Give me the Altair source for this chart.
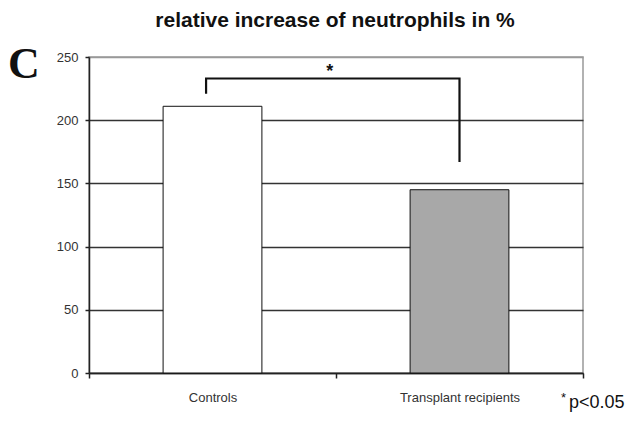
import altair as alt
import pandas as pd

categories = ["Controls", "Transplant recipients"]
values = [211, 145]
fills = ["#ffffff", "#a8a8a8"]

# significance bracket (x in band units 0..2, y in data units)
bracket_x = [0.474, 0.474, 1.5, 1.5]
bracket_y = [221, 233, 233, 167]
bracket_order = [0, 1, 2, 3]
star_x = [0.975]
star_y = [233]

y_ticks = [0, 50, 100, 150, 200, 250]

bars_df = pd.DataFrame({"group": categories, "value": values, "fill": fills})
bracket_df = pd.DataFrame({"bx": bracket_x, "value": bracket_y, "o": bracket_order})
star_df = pd.DataFrame({"sx": star_x, "value": star_y, "t": ["*"]})

yscale = alt.Scale(domain=[0, 250], nice=False)
xq = alt.Scale(domain=[0, 2], nice=False, zero=False)

yaxis = alt.Axis(
    values=y_ticks, title=None, tickSize=4, labelPadding=7,
    labelFontSize=13, labelFont="Liberation Sans", labelColor="#333",
    domainColor="#222", domainWidth=1.5, tickColor="#222", tickWidth=1.5,
    grid=True, gridWidth=1.5,
    gridColor=alt.condition("datum.value == 250", alt.value("#999999"), alt.value("#333333")),
)

bars = alt.Chart(bars_df).mark_bar(
    stroke="#111", strokeWidth=1, width=alt.RelativeBandSize(0.4)
).encode(
    x=alt.X(
        "group:N", sort=categories,
        scale=alt.Scale(paddingInner=0, paddingOuter=0),
        axis=alt.Axis(
            title=None, labelAngle=0, tickBand="extent", tickSize=5,
            labelPadding=23, labelBaseline="alphabetic", labelFontSize=13,
            labelFont="Liberation Sans", labelColor="#333",
            domainColor="#222", domainWidth=1.5, tickColor="#222", tickWidth=1.5,
            grid=False,
        ),
    ),
    y=alt.Y("value:Q", scale=yscale, axis=yaxis),
    fill=alt.Fill("fill:N", scale=None),
)

bracket = alt.Chart(bracket_df).mark_line(
    color="#111", strokeWidth=2.2, strokeJoin="miter", strokeCap="butt"
).encode(
    x=alt.X("bx:Q", scale=xq, axis=None),
    y=alt.Y("value:Q", scale=yscale, axis=yaxis),
    order="o:O",
)

star = alt.Chart(star_df).mark_text(
    font="Liberation Sans", fontSize=18, fontWeight="bold", baseline="alphabetic",
    align="center", dy=-1, color="#111"
).encode(
    x=alt.X("sx:Q", scale=xq, axis=None),
    y=alt.Y("value:Q", scale=yscale, axis=yaxis),
    text="t:N",
)

annot = pd.DataFrame({"a": [0]})
title = alt.Chart(annot).mark_text(
    text="relative increase of neutrophils in %", font="Liberation Sans", fontSize=21,
    fontWeight="bold", align="center", baseline="alphabetic", color="#111"
).encode(x=alt.value(246), y=alt.value(-30))

letter = alt.Chart(annot).mark_text(
    text="C", font="Liberation Serif", fontSize=44, fontWeight="bold",
    align="left", baseline="alphabetic", color="#111"
).encode(x=alt.value(-81), y=alt.value(21))

pstar = alt.Chart(annot).mark_text(
    text="*", font="Liberation Sans", fontSize=13, align="left", baseline="alphabetic", color="#111"
).encode(x=alt.value(472), y=alt.value(345))

pval = alt.Chart(annot).mark_text(
    text="p<0.05", font="Liberation Sans", fontSize=18, align="left", baseline="alphabetic", color="#111"
).encode(x=alt.value(480), y=alt.value(351))

chart = alt.layer(bars, bracket, star, title, letter, pstar, pval).resolve_scale(
    x="independent"
).properties(
    width=494, height=316,
    padding={"left": 81, "top": 49, "right": 48, "bottom": 41},
    autosize=alt.AutoSizeParams(type="none"),
    background="white",
).configure_view(stroke="#999999", strokeWidth=1.5)

chart.save("out.html", embed_options={"renderer": "svg", "actions": False})
